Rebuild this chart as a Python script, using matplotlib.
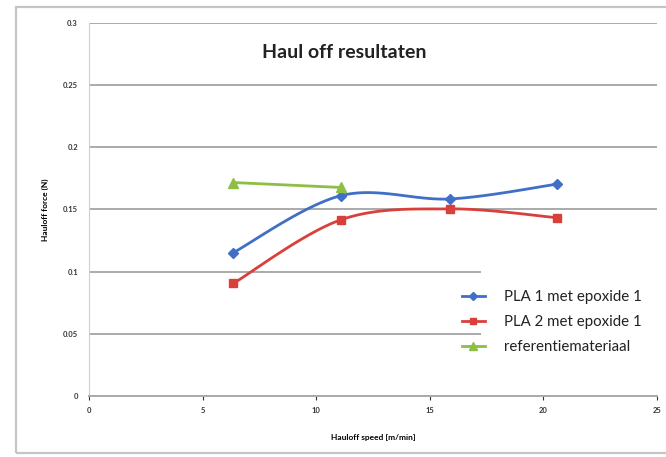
import numpy as np
import matplotlib
matplotlib.use("Agg")
from matplotlib import pyplot as plt
from matplotlib.patches import Rectangle

# data
speed = [6.35, 11.1, 15.9, 20.6]
pla1 = [0.1153, 0.1612, 0.1585, 0.1704]
pla2 = [0.0905, 0.1418, 0.1505, 0.1434]
ref_speed = [6.35, 11.1]
ref_force = [0.1717, 0.1677]

labels = ["PLA 1 met epoxide 1", "PLA 2 met epoxide 1", "referentiemateriaal"]
colors = ["#3f6fc6", "#d9403c", "#8cbf44"]
markers = ["D", "s", "^"]
msizes = [5.5, 6, 6.5]

XMAX, YMAX = 25, 0.3
W_PX, H_PX = 568, 373   # plot area in pixels, used for the smoothing


def smooth(xs, ys, n=40):
    # excel-like smoothed line (catmull-rom in screen space)
    px = np.array(xs) / XMAX * W_PX
    py = np.array(ys) / YMAX * H_PX
    if len(px) < 3:
        return list(xs), list(ys)
    pts = np.column_stack([px, py])
    ext = np.vstack([pts[0], pts, pts[-1]])
    out = []
    for i in range(1, len(ext) - 2):
        p0, p1, p2, p3 = ext[i - 1], ext[i], ext[i + 1], ext[i + 2]
        c1 = p1 + (p2 - p0) / 6
        c2 = p2 - (p3 - p1) / 6
        t = np.linspace(0, 1, n)[:, None]
        seg = (1 - t) ** 3 * p1 + 3 * (1 - t) ** 2 * t * c1 + 3 * (1 - t) * t ** 2 * c2 + t ** 3 * p2
        out.append(seg if i == 1 else seg[1:])
    out = np.vstack(out)
    return out[:, 0] / W_PX * XMAX, out[:, 1] / H_PX * YMAX


plt.rcParams['font.family'] = ['Lato', 'DejaVu Sans']

fig = plt.figure(figsize=(6.66, 4.57), dpi=100)
fig.patches.append(Rectangle((16 / 666, 4 / 457), 0.99, 446 / 457, transform=fig.transFigure,
                             fill=False, edgecolor="#c4c4c4", lw=1.6))
ax = fig.add_axes([89 / 666, 1 - 396 / 457, 568 / 666, 373 / 457])

series = [(speed, pla1), (speed, pla2), (ref_speed, ref_force)]
for (xs, ys), lab, c, m, ms in zip(series, labels, colors, markers, msizes):
    sx, sy = smooth(xs, ys)
    ax.plot(sx, sy, color=c, lw=2, zorder=3)
    ax.plot(xs, ys, ls="none", marker=m, color=c, ms=ms, zorder=4)
    ax.plot([], [], color=c, lw=2, marker=m, ms=ms - 1, label=lab)

# white legend area hides the gridlines behind it
ax.add_patch(Rectangle((0.69, 0.09), 0.31, 0.27, transform=ax.transAxes,
                       facecolor="white", edgecolor="none", zorder=1))

ax.set_xlim(0, XMAX)
ax.set_ylim(0, YMAX)
ax.set_xticks([0, 5, 10, 15, 20, 25])
ax.set_yticks([0, 0.05, 0.1, 0.15, 0.2, 0.25, 0.3])
ax.set_yticklabels(["0", "0.05", "0.1", "0.15", "0.2", "0.25", "0.3"])
ax.grid(axis="y", color="#aaaaaa", lw=1.4)
ax.set_axisbelow(True)
for s in ["top", "right"]:
    ax.spines[s].set_visible(False)
ax.spines["left"].set_color("#d0d0d0")
ax.spines["bottom"].set_color("#aaaaaa")
ax.spines["bottom"].set_linewidth(1.4)
ax.tick_params(axis="both", labelsize=5.5, colors="#333333", length=3, width=0.8)
ax.tick_params(axis="y", length=0, pad=8)
ax.tick_params(axis="x", pad=5)
for t in ax.get_xticklabels() + ax.get_yticklabels():
    t.set_fontweight("bold")

ax.set_xlabel("Hauloff speed [m/min]", fontsize=6, fontweight="bold", labelpad=14)
ax.set_ylabel("Hauloff force (N)", fontsize=6, fontweight="bold", labelpad=10)
ax.text(0.45, 0.922, "Haul off resultaten", transform=ax.transAxes, ha="center", va="center",
        fontsize=14, fontweight="bold", color="#222222")

leg = ax.legend(loc="upper left", bbox_to_anchor=(0.657, 0.283), frameon=False, fontsize=10.8,
                handlelength=1.5, handletextpad=1.3, labelspacing=0.72, borderpad=0,
                borderaxespad=0)
for t in leg.get_texts():
    t.set_color("#222222")

fig.savefig("out.png", dpi=100)
